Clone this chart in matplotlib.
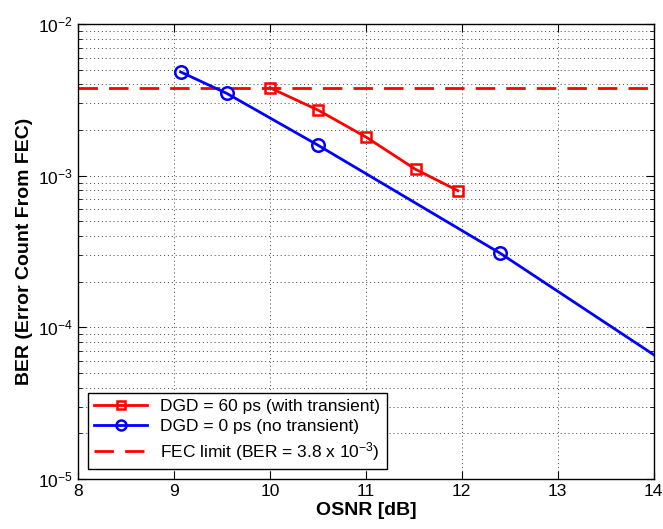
import matplotlib
matplotlib.use("Agg")
import matplotlib.pyplot as plt
from matplotlib.ticker import LogLocator, FixedLocator

plt.rcParams['font.family'] = ['Liberation Sans', 'DejaVu Sans']
plt.rcParams['mathtext.fontset'] = 'custom'
plt.rcParams['mathtext.rm'] = 'Liberation Sans'
plt.rcParams['mathtext.it'] = 'Liberation Sans:italic'

# Data
osnr_60 = [10.0, 10.5, 11.0, 11.52, 11.96]
ber_60 = [3.8e-3, 2.71e-3, 1.80e-3, 1.10e-3, 7.96e-4]

osnr_0 = [9.07, 9.55, 10.5, 12.4, 14.0]
ber_0 = [4.83e-3, 3.49e-3, 1.59e-3, 3.08e-4, 6.6e-5]
markers_0 = [0, 1, 2, 3]

fec_limit = 3.8e-3

fig = plt.figure(figsize=(6.63, 5.29), dpi=100)
ax = fig.add_axes([0.1176, 0.0945, 0.8684, 0.8601])

ax.plot(osnr_60, ber_60, color='red', lw=2, marker='s', ms=7, mfc='none', mew=1.8,
        label='DGD = 60 ps (with transient)', zorder=4)
ax.plot(osnr_0, ber_0, color='blue', lw=2, marker='o', ms=9, mfc='none', mew=1.8,
        markevery=markers_0, label='DGD = 0 ps (no transient)', zorder=3)
ax.axhline(fec_limit, color='red', lw=2, ls=(0, (7, 4)),
           label='FEC limit (BER = 3.8 x 10$^{-3}$)', zorder=2)

ax.set_yscale('log')
ax.set_xlim(8, 14)
ax.set_ylim(1e-5, 1e-2)
ax.set_xticks([8, 9, 10, 11, 12, 13, 14])
ax.yaxis.set_major_locator(FixedLocator([1e-5, 1e-4, 1e-3, 1e-2]))
ax.yaxis.set_minor_locator(LogLocator(base=10, subs=range(2, 10)))
ax.set_yticklabels(['10$^{-5}$', '10$^{-4}$', '10$^{-3}$', '10$^{-2}$'])

ax.grid(True, which='major', color='#444444', ls=(0, (1, 3)), lw=0.7)
ax.grid(True, which='minor', axis='y', color='#444444', ls=(0, (1, 3)), lw=0.7)

ax.tick_params(which='both', direction='in', top=True, right=True, labelsize=12.5)
ax.tick_params(which='major', length=6)
ax.tick_params(which='minor', length=3)
for s in ax.spines.values():
    s.set_linewidth(1.0)

ax.set_xlabel('OSNR [dB]', fontsize=14, fontweight='bold', labelpad=2)
ax.set_ylabel('BER (Error Count From FEC)', fontsize=14, fontweight='bold', labelpad=4)

leg = ax.legend(loc='lower left', fontsize=12.5, fancybox=False, framealpha=1,
                edgecolor='black', borderaxespad=0.6, handlelength=3,
                labelspacing=0.3, borderpad=0.35, markerscale=0.8)
leg.get_frame().set_linewidth(1.0)

fig.savefig('out.png', dpi=100)
